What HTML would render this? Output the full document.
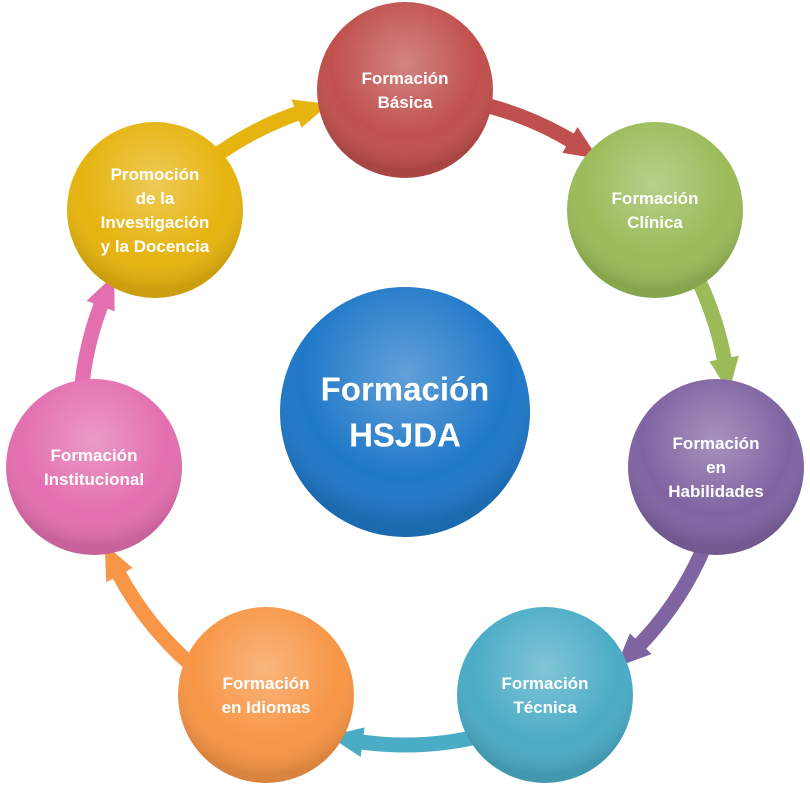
<!DOCTYPE html>
<html><head><meta charset="utf-8"><style>
body{margin:0;background:#fff;width:810px;height:795px;overflow:hidden}
svg{display:block}
text{font-family:"Liberation Sans",sans-serif;font-weight:bold;fill:#fff;text-anchor:middle}
</style></head><body>
<svg id="s" width="810" height="795" xmlns="http://www.w3.org/2000/svg">
<defs>
<radialGradient id="hl" cx="0.5" cy="0.35" r="0.6">
<stop offset="0" stop-color="#fff" stop-opacity="0.3"/>
<stop offset="0.7" stop-color="#fff" stop-opacity="0"/>
<stop offset="1" stop-color="#000" stop-opacity="0.12"/>
</radialGradient>
</defs>
<g id="arcs"></g>
<g id="circles"></g>
</svg>
<script>
var cx=405,cy=420,R=325;
var nodes=[
 {a:-90,x:405,y:90,c:"#c0504d",t:["Formación","Básica"]},
 {a:-40,x:655,y:210,c:"#9bbb59",t:["Formación","Clínica"]},
 {a:8.6,x:716,y:467,c:"#8064a2",t:["Formación","en","Habilidades"]},
 {a:63,x:545,y:695,c:"#4bacc6",t:["Formación","Técnica"]},
 {a:117,x:266,y:695,c:"#f79646",t:["Formación","en Idiomas"]},
 {a:171,x:94,y:467,c:"#e36fb0",t:["Formación","Institucional"]},
 {a:220,x:155,y:210,c:"#e6b40f",t:["Promoción","de la","Investigación","y la Docencia"]}
];
var ns="http://www.w3.org/2000/svg",arcs=document.getElementById("arcs"),cir=document.getElementById("circles");
function pt(a,r){r=r||R;var q=a*Math.PI/180;return [cx+r*Math.cos(q),cy+r*Math.sin(q)];}
for(var i=0;i<7;i++){
 var n=nodes[i],m=nodes[(i+1)%7];
 var a0=n.a+12,a1=(m.a<n.a?m.a+360:m.a)-19;
 var p0=pt(a0),p1=pt(a1);
 var p=document.createElementNS(ns,"path");
 p.setAttribute("d","M"+p0+" A"+R+" "+R+" 0 0 1 "+p1);
 p.setAttribute("stroke",n.c);p.setAttribute("stroke-width","15");p.setAttribute("fill","none");
 arcs.appendChild(p);
 var t1=pt(a1-0.5,R-15),t2=pt(a1-0.5,R+15),tip=pt(a1+5.5);
 var tr=document.createElementNS(ns,"polygon");
 tr.setAttribute("points",t1+" "+t2+" "+tip);tr.setAttribute("fill",n.c);
 arcs.appendChild(tr);
}
function circle(x,y,r,c,lines,fs,lh){
 var e=document.createElementNS(ns,"circle");
 e.setAttribute("cx",x);e.setAttribute("cy",y);e.setAttribute("r",r);e.setAttribute("fill",c);cir.appendChild(e);
 e=document.createElementNS(ns,"circle");
 e.setAttribute("cx",x);e.setAttribute("cy",y);e.setAttribute("r",r);e.setAttribute("fill","url(#hl)");cir.appendChild(e);
 var y0=y-(lines.length-1)*lh/2+fs*0.35;
 lines.forEach(function(l,k){var t=document.createElementNS(ns,"text");t.setAttribute("x",x);t.setAttribute("y",y0+k*lh);t.setAttribute("font-size",fs);t.textContent=l;cir.appendChild(t);});
}
circle(405,412,125,"#1f78c8",["Formación","HSJDA"],33,46);
nodes.forEach(function(n){circle(n.x,n.y,88,n.c,n.t,17,24);});
</script>
</body></html>
